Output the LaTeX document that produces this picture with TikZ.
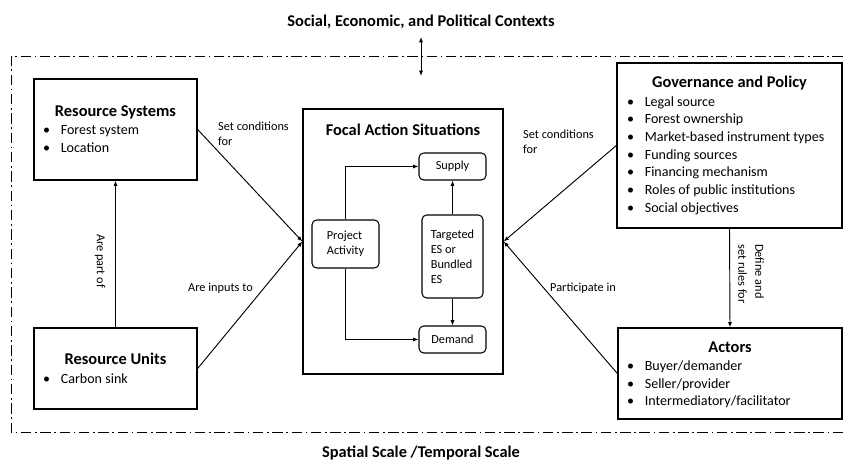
\documentclass[tikz,border=0pt]{standalone}
\usepackage{fontspec}
\setmainfont{Carlito}
\usetikzlibrary{arrows.meta,positioning}
\newcommand{\bul}{\makebox[15pt][l]{\textbullet}}

\begin{document}
\begin{tikzpicture}[x=0.03cm, y=-0.03cm, >={Latex[length=4.5pt,width=3.5pt]},
    box/.style={draw, line width=1.1pt, inner sep=0pt},
    ibox/.style={draw, line width=0.9pt, rounded corners=4pt, inner sep=0pt, align=left, font=\fontsize{10.5}{12.8}\selectfont},
    head/.style={font=\fontsize{14}{16}\selectfont\bfseries, inner sep=0pt},
    lst/.style={font=\fontsize{12}{15.1}\selectfont, align=left, anchor=west, inner sep=0pt},
    lbl/.style={font=\fontsize{10.5}{13}\selectfont, align=left, inner sep=0pt},
    arr/.style={->, line width=0.8pt},
    frame/.style={line width=0.8pt, dash pattern=on 9pt off 3pt on 1.5pt off 3pt}]
    \useasboundingbox (0,0) rectangle (843,461);
    % context frame
    \node[head] (ctx) at (421,22) {Social, Economic, and Political Contexts};
    \node[head] (scl) at (421,453) {Spatial Scale /Temporal Scale};
    \draw[frame] (843,56) -- (11,56) -- (11,432) -- (843,432);
    \coordinate (ca) at (421,37);
    \coordinate (cb) at (421,76);
    \draw[<->, line width=0.8pt] (ca) -- (cb);
    % outer boxes
    \node[box, minimum width=4.89cm, minimum height=3.03cm] (rs) at (115.5,129.5) {};
    \node[head] at (115.5,112) {Resource Systems};
    \node[lst] at (43,139) {\bul Forest system\\\bul Location};
    \node[box, minimum width=4.89cm, minimum height=2.43cm] (ru) at (115.5,368.5) {};
    \node[head] at (115.5,359) {Resource Units};
    \node[lst] at (43,379) {\bul Carbon sink};
    \node[box, minimum width=6.0cm, minimum height=7.95cm] (fas) at (403,241.5) {};
    \node[head] at (403,130) {Focal Action Situations};
    \node[box, minimum width=6.75cm, minimum height=4.95cm] (gp) at (729.5,145.5) {};
    \node[head] at (729.5,83) {Governance and Policy};
    \node[lst] at (627,155.5) {\bul Legal source\\\bul Forest ownership\\\bul Market-based instrument types\\\bul Funding sources\\\bul Financing mechanism\\\bul Roles of public institutions\\\bul Social objectives};
    \node[box, minimum width=6.72cm, minimum height=2.73cm] (act) at (730,373.5) {};
    \node[head] at (730,347) {Actors};
    \node[lst] at (627,384.5) {\bul Buyer/demander\\\bul Seller/provider\\\bul Intermediatory/facilitator};
    % inner boxes
    \node[ibox, minimum width=2.01cm, minimum height=0.81cm] (sup) at (452.5,166.5) {Supply};
    \node[ibox, minimum width=1.83cm, minimum height=2.49cm] (tes) at (452.5,256.5) {Targeted\\ES or\\Bundled\\ES};
    \node[ibox, minimum width=2.01cm, minimum height=0.81cm] (dem) at (452.5,339.5) {Demand};
    \node[ibox, minimum width=2.01cm, minimum height=1.44cm] (pa) at (345.5,244) {Project\\Activity};
    % labels
    \node[lbl, anchor=west] at (218,133.5) {Set conditions\\for};
    \node[lbl, anchor=west] at (523,142) {Set conditions\\for};
    \node[lbl] at (220.5,288) {Are inputs to};
    \node[lbl] at (583,288) {Participate in};
    \node[lbl, rotate=-90] at (100,261) {Are part of};
    \node[lbl, rotate=-90, font=\fontsize{10.5}{14.5}\selectfont] at (751,274) {Define and\\set rules for};
    % connectors
    \draw[arr] (rs.east) -- (fas.west);
    \draw[arr] (ru.east) -- (fas.west);
    \draw[arr] (gp.west) -- (fas.east);
    \draw[arr] (act.west) -- (fas.east);
    \draw[arr] (ru.north) -- (rs.south);
    \draw[arr] (gp.south) -- (act.north);
    \draw[arr] (pa.north) |- (sup.west);
    \draw[arr] (pa.south) |- (dem.west);
    \draw[arr] (tes.north) -- (sup.south);
    \draw[arr] (tes.south) -- (dem.north);
\end{tikzpicture}
\end{document}
